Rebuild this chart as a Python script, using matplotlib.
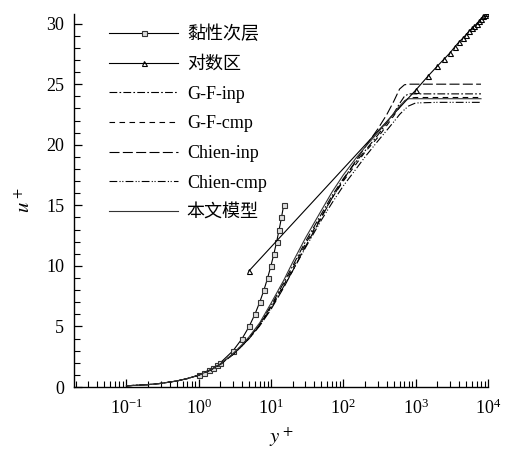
import matplotlib
matplotlib.use("Agg")
import matplotlib.pyplot as plt
from matplotlib.ticker import FixedLocator, LogLocator, MultipleLocator, NullFormatter

plt.rcParams['font.family'] = ['Liberation Serif', 'Noto Sans CJK SC']
plt.rcParams['mathtext.fontset'] = 'stix'

# ---- data ----
sub_y = [1, 1.2, 1.4, 1.6, 1.8, 2, 3, 4, 5, 6, 7, 8, 9, 10, 11, 12, 13, 14, 15]
sub_u = [1, 1.2, 1.4, 1.6, 1.8, 2, 3, 4, 5, 6, 7, 8, 9, 10, 11, 12, 13, 14, 15]

log_y = [5, 1000, 1500, 2000, 2500, 3000, 3500, 4000, 4500, 5000, 5500,
         6000, 6500, 7000, 7500, 8000, 8500, 9000, 9500, 10000]
log_u = [9.6, 24.5, 25.7, 26.5, 27.1, 27.6, 28.1, 28.5, 28.8, 29.1, 29.4,
         29.6, 29.8, 30.0, 30.2, 30.4, 30.6, 30.7, 30.9, 31.0]

yp = [0.1, 0.2, 0.3, 0.5, 0.7, 1, 1.5, 2, 3, 4, 5, 7, 10, 15, 20, 30, 50, 70,
      100, 150, 200, 300, 400, 500, 600, 700, 800, 1000, 2000, 5000, 8000]
u_gf_inp = [0.1, 0.2, 0.3, 0.5, 0.7, 0.98, 1.45, 1.9, 2.73, 3.47, 4.1, 5.2, 6.7,
            8.6, 10.0, 12.0, 14.3, 15.8, 17.2, 18.6, 19.5, 20.8, 21.8, 22.6,
            23.4, 24.0, 24.2, 24.2, 24.2, 24.2, 24.2]
u_gf_cmp = [0.1, 0.2, 0.3, 0.5, 0.7, 0.98, 1.45, 1.9, 2.72, 3.45, 4.05, 5.15, 6.6,
            8.4, 9.8, 11.8, 14.1, 15.6, 17.0, 18.4, 19.4, 20.6, 21.6, 22.4,
            23.1, 23.6, 23.85, 23.9, 23.9, 23.9, 23.9]
u_ch_inp = [0.1, 0.2, 0.3, 0.5, 0.7, 0.97, 1.43, 1.87, 2.68, 3.4, 4.0, 5.05, 6.4,
            8.2, 9.6, 11.6, 14.0, 15.6, 17.1, 18.7, 19.8, 21.3, 22.5, 23.6,
            24.6, 24.95, 25.0, 25.0, 25.0, 25.0, 25.0]
u_ch_cmp = [0.1, 0.2, 0.3, 0.5, 0.7, 0.97, 1.43, 1.87, 2.7, 3.42, 4.02, 5.1, 6.5,
            8.3, 9.6, 11.5, 13.8, 15.2, 16.6, 18.0, 19.0, 20.3, 21.2, 21.9,
            22.5, 22.9, 23.2, 23.45, 23.5, 23.5, 23.5]
u_model = [0.1, 0.2, 0.3, 0.5, 0.7, 0.98, 1.45, 1.9, 2.75, 3.5, 4.15, 5.3, 6.9,
           8.8, 10.3, 12.3, 14.6, 16.1, 17.5, 18.9, 19.8, 21.0, 21.9, 22.6,
           23.2, 23.6, 23.8, 23.8, 23.8, 23.8, 23.8]

x_major = [0.1, 1, 10, 100, 1000, 10000]

fig = plt.figure(figsize=(5.07, 4.49), dpi=100)
ax = fig.add_axes([0.146, 0.138, 0.8165, 0.831])

lw = 0.8
ax.plot(sub_y, sub_u, color='black', lw=lw, marker='s', ms=3.6, mfc='#dddddd',
        mec='#333333', mew=0.8, label='黏性次层')
ax.plot(log_y, log_u, color='black', lw=lw, marker='^', ms=3.6, mfc='none',
        mec='black', mew=0.8, label='对数区')
ax.plot(yp, u_gf_inp, color='black', lw=lw, ls=(0, (7, 2, 1.5, 2)), label='G-F-inp')
ax.plot(yp, u_gf_cmp, color='black', lw=lw, ls=(0, (5, 4)), label='G-F-cmp')
ax.plot(yp, u_ch_inp, color='black', lw=lw, ls=(0, (9, 3)), label='Chien-inp')
ax.plot(yp, u_ch_cmp, color='black', lw=lw, ls=(0, (7, 2, 1, 1.5, 1, 2)), label='Chien-cmp')
ax.plot(yp, u_model, color='#333333', lw=lw, label='本文模型')

ax.set_xscale('log')
ax.set_xlim(0.019, 1e4)
ax.set_ylim(0, 30.8)
ax.xaxis.set_major_locator(FixedLocator(x_major))
ax.xaxis.set_minor_locator(LogLocator(base=10, subs=range(2, 10), numticks=20))
ax.xaxis.set_minor_formatter(NullFormatter())
ax.yaxis.set_major_locator(MultipleLocator(5))
ax.yaxis.set_minor_locator(MultipleLocator(1))

for s in ['top', 'right']:
    ax.spines[s].set_visible(False)
for s in ['left', 'bottom']:
    ax.spines[s].set_linewidth(1.0)

ax.tick_params(which='major', direction='in', length=6, width=0.9, labelsize=13)
ax.tick_params(axis='x', which='major', pad=8)
ax.tick_params(axis='y', which='major', pad=7)
ax.tick_params(which='minor', direction='in', length=4, width=0.8)

ax.set_xlabel(r'$y^+$', fontsize=15, labelpad=6)
ax.set_ylabel(r'$u^+$', fontsize=15, labelpad=8)

ax.legend(loc='upper left', bbox_to_anchor=(0.085, 0.968), frameon=False, fontsize=13,
          handlelength=3.8, handletextpad=0.5, labelspacing=0.7, borderaxespad=0,
          borderpad=0)

fig.savefig('out.png', dpi=100)
